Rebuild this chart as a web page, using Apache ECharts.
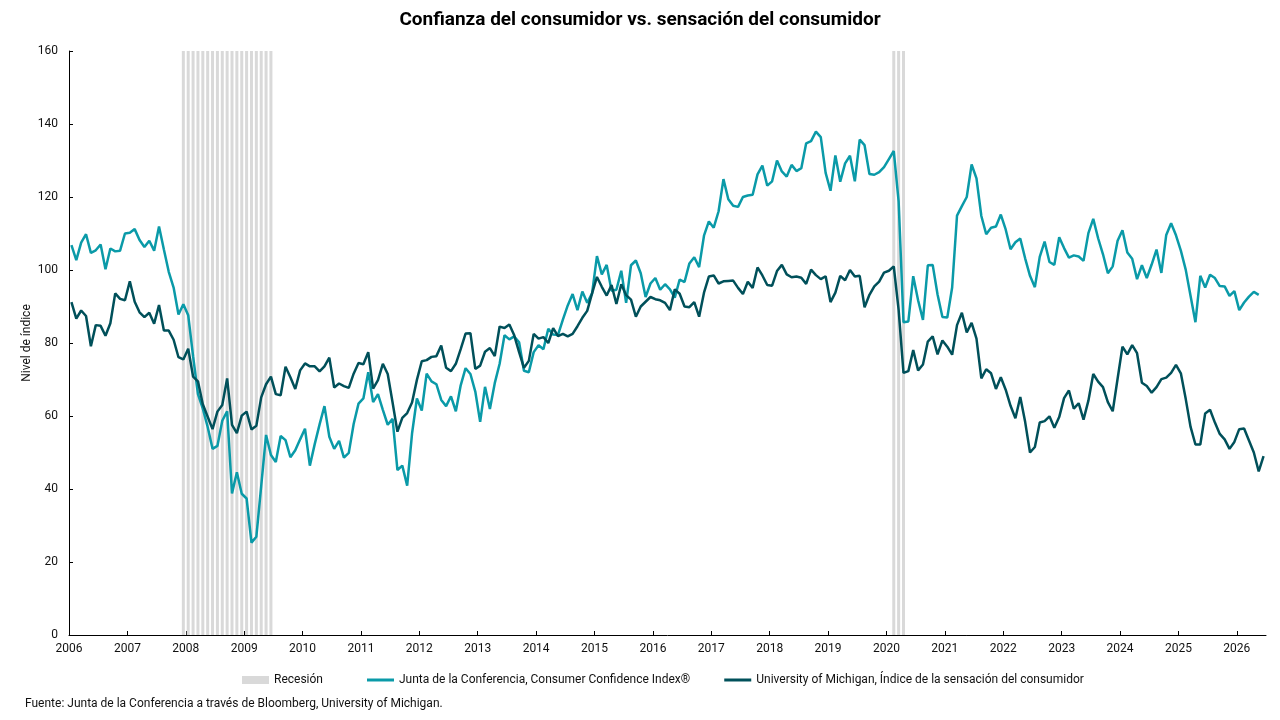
<!DOCTYPE html>
<html>
<head>
<meta charset="utf-8">
<script src="https://cdn.jsdelivr.net/npm/echarts@6/dist/echarts.min.js"></script>
<style>
  html, body { margin: 0; padding: 0; background: #fff; }
  #chart { width: 1280px; height: 720px; }
</style>
</head>
<body>
<div id="chart"></div>
<script>
// datos mensuales desde enero de 2006
var startYear = 2006;

// Junta de la Conferencia, Consumer Confidence Index (ene 2006 - may 2026)
var cciValues = [
  106.8, 102.7, 107.5, 109.8, 104.7, 105.4, 107.0, 100.2, 105.9, 105.1, 105.3, 110.0,
  110.2, 111.2, 108.2, 106.3, 108.0, 105.3, 111.9, 105.6, 99.5, 95.2, 87.8, 90.6,
  87.6, 76.4, 66.0, 62.0, 57.0, 51.0, 51.8, 58.7, 61.3, 38.8, 44.6, 38.7,
  37.4, 25.3, 26.9, 40.8, 54.8, 49.3, 47.4, 54.5, 53.4, 48.7, 50.6, 53.6,
  56.5, 46.4, 52.3, 57.7, 62.7, 54.3, 51.0, 53.2, 48.6, 49.9, 57.8, 63.4,
  64.8, 72.0, 63.8, 66.0, 61.7, 57.6, 59.2, 45.2, 46.4, 40.9, 55.2, 64.8,
  61.5, 71.6, 69.5, 68.7, 64.4, 62.7, 65.4, 61.3, 68.4, 73.1, 71.5, 66.7,
  58.4, 68.0, 61.9, 69.0, 74.3, 82.1, 81.0, 81.8, 80.2, 72.4, 72.0, 77.5,
  79.4, 78.3, 83.9, 82.3, 82.2, 86.4, 90.3, 93.4, 89.0, 94.1, 91.0, 93.6,
  103.8, 98.8, 101.4, 94.3, 94.6, 99.8, 91.0, 101.3, 102.6, 99.1, 92.6, 96.3,
  97.8, 94.6, 96.1, 94.7, 92.4, 97.4, 96.7, 101.8, 103.5, 100.8, 109.4, 113.3,
  111.6, 116.1, 124.9, 119.4, 117.6, 117.3, 120.0, 120.4, 120.6, 126.2, 128.6, 123.1,
  124.3, 130.0, 127.0, 125.6, 128.8, 127.1, 127.9, 134.7, 135.3, 137.9, 136.4, 126.6,
  121.7, 131.4, 124.2, 129.2, 131.3, 124.3, 135.7, 134.2, 126.3, 126.1, 126.8, 128.2,
  130.4, 132.6, 118.8, 85.7, 85.9, 98.3, 91.7, 86.3, 101.3, 101.4, 93.3, 87.1,
  87.0, 95.2, 114.9, 117.5, 120.0, 128.9, 125.1, 114.8, 109.8, 111.6, 111.9, 115.2,
  111.1, 105.7, 107.6, 108.6, 103.2, 98.4, 95.3, 103.6, 107.8, 102.2, 101.4, 109.0,
  106.0, 103.4, 104.0, 103.7, 102.5, 110.1, 114.0, 108.7, 104.3, 99.1, 101.0, 108.0,
  110.9, 104.8, 103.1, 97.5, 101.3, 97.8, 101.5, 105.6, 99.2, 109.6, 112.8, 109.5,
  105.3, 100.1, 92.9, 85.7, 98.4, 95.2, 98.7, 97.8, 95.6, 95.5, 92.9, 94.2,
  89.0, 91.1, 92.7, 94.0, 93.2
];

// University of Michigan, sensación del consumidor (ene 2006 - jun 2026)
var umichValues = [
  91.2, 86.7, 88.9, 87.4, 79.1, 84.9, 84.7, 82.0, 85.4, 93.6, 92.1, 91.7,
  96.9, 91.3, 88.4, 87.1, 88.3, 85.3, 90.4, 83.4, 83.4, 80.9, 76.1, 75.5,
  78.4, 70.8, 69.5, 63.2, 59.8, 56.4, 61.2, 63.0, 70.3, 57.6, 55.3, 60.1,
  61.2, 56.3, 57.3, 65.1, 68.7, 70.8, 66.0, 65.7, 73.5, 70.6, 67.4, 72.5,
  74.4, 73.6, 73.6, 72.2, 73.6, 76.0, 67.8, 68.9, 68.2, 67.7, 71.6, 74.5,
  74.2, 77.5, 67.5, 69.8, 74.3, 71.5, 63.7, 55.7, 59.5, 60.8, 63.7, 69.9,
  75.0, 75.3, 76.2, 76.4, 79.3, 73.2, 72.3, 74.3, 78.3, 82.6, 82.7, 72.9,
  73.8, 77.6, 78.6, 76.4, 84.5, 84.1, 85.1, 82.1, 77.5, 73.2, 75.1, 82.5,
  81.2, 81.6, 80.0, 84.1, 81.9, 82.5, 81.8, 82.5, 84.6, 86.9, 88.8, 93.6,
  98.1, 95.4, 93.0, 95.9, 90.7, 96.1, 93.1, 91.9, 87.2, 90.0, 91.3, 92.6,
  92.0, 91.7, 91.0, 89.0, 94.7, 93.5, 90.0, 89.8, 91.2, 87.2, 93.8, 98.2,
  98.5, 96.3, 96.9, 97.0, 97.1, 95.1, 93.4, 96.8, 95.1, 100.7, 98.5, 95.9,
  95.7, 99.7, 101.4, 98.8, 98.0, 98.2, 97.9, 96.2, 100.1, 98.6, 97.5, 98.3,
  91.2, 93.8, 98.4, 97.2, 100.0, 98.2, 98.4, 89.8, 93.2, 95.5, 96.8, 99.3,
  99.8, 101.0, 89.1, 71.8, 72.3, 78.1, 72.5, 74.1, 80.4, 81.8, 76.9, 80.7,
  79.0, 76.8, 84.9, 88.3, 82.9, 85.5, 81.2, 70.3, 72.8, 71.7, 67.4, 70.6,
  67.2, 62.8, 59.4, 65.2, 58.4, 50.0, 51.5, 58.2, 58.6, 59.9, 56.8, 59.7,
  64.9, 67.0, 62.0, 63.5, 59.0, 64.2, 71.5, 69.4, 67.9, 63.8, 61.3, 70.2,
  79.0, 76.9, 79.4, 77.2, 69.1, 68.2, 66.4, 67.9, 70.1, 70.5, 71.8, 74.0,
  71.7, 64.7, 57.0, 52.2, 52.2, 60.7, 61.7, 58.2, 55.1, 53.6, 51.0, 52.9,
  56.4, 56.6, 53.3, 50.0, 44.8, 49.0
];

// meses en recesión (NBER)
var recessionMonths = [
  '2007-12', '2008-01', '2008-02', '2008-03', '2008-04', '2008-05', '2008-06',
  '2008-07', '2008-08', '2008-09', '2008-10', '2008-11', '2008-12',
  '2009-01', '2009-02', '2009-03', '2009-04', '2009-05', '2009-06',
  '2020-02', '2020-03', '2020-04'
];

var yMax = 160;
var yAxisName = 'Nivel de índice';
var seriesNames = [
  'Recesión',
  'Junta de la Conferencia, Consumer Confidence Index®',
  'University of Michigan, Índice de la sensación del consumidor'
];

// posición en años decimales (mitad de mes)
function monthX(i) {
  return startYear + (i + 0.5) / 12;
}
function labelX(s) {
  var p = s.split('-');
  return +p[0] + (+p[1] - 0.5) / 12;
}

var cciData = cciValues.map(function (v, i) { return [monthX(i), v]; });
var umichData = umichValues.map(function (v, i) { return [monthX(i), v]; });
var recessionData = recessionMonths.map(function (m) { return [labelX(m), yMax]; });

var font = 'Roboto, "Noto Sans", sans-serif';
var textColor = '#111';
var myChart = echarts.init(document.getElementById('chart'), null, { renderer: 'canvas' });

option = {
  backgroundColor: '#ffffff',
  animation: false,
  textStyle: { fontFamily: font },
  title: [
    {
      text: 'Confianza del consumidor vs. sensación del consumidor',
      left: 'center',
      top: 11,
      padding: 0,
      textStyle: { fontSize: 19, fontWeight: 'bold', color: '#000', fontFamily: font }
    },
    {
      text: 'Fuente: Junta de la Conferencia a través de Bloomberg, University of Michigan.',
      left: 25,
      top: 698,
      padding: 0,
      textStyle: { fontSize: 12, fontWeight: 'normal', color: textColor, fontFamily: font }
    }
  ],
  // título del eje Y, girado
  graphic: [
    {
      type: 'text',
      x: 27,
      y: 343,
      rotation: Math.PI / 2,
      style: {
        text: yAxisName,
        fill: textColor,
        font: '12px ' + font,
        align: 'center',
        verticalAlign: 'middle'
      }
    }
  ],
  legend: [
    {
      // recesión: rectángulo gris
      left: 242,
      top: 674,
      padding: 0,
      itemWidth: 27,
      itemHeight: 8,
      textStyle: { fontSize: 12, color: textColor, fontFamily: font },
      data: [{ name: seriesNames[0], icon: 'rect' }]
    },
    {
      // series de línea: trazo simple
      left: 367,
      top: 674,
      padding: 0,
      itemWidth: 27,
      itemHeight: 3,
      itemGap: 34,
      icon: 'rect',
      textStyle: { fontSize: 12, color: textColor, fontFamily: font },
      data: [seriesNames[1], seriesNames[2]]
    }
  ],
  grid: {
    left: 69,
    right: 14,
    top: 51,
    bottom: 85,
    containLabel: false
  },
  xAxis: {
    type: 'value',
    min: 2006,
    max: 2026.5,
    interval: 1,
    splitLine: { show: false },
    axisLine: { show: true, onZero: false, lineStyle: { color: '#000', width: 1 } },
    axisTick: { show: true, inside: true, length: 4, lineStyle: { color: '#000' } },
    axisLabel: {
      color: textColor,
      fontSize: 12,
      margin: 8,
      showMaxLabel: false,
      formatter: function (v) { return Number.isInteger(v) ? String(v) : ''; }
    }
  },
  yAxis: {
    type: 'value',
    min: 0,
    max: yMax,
    interval: 20,
    splitLine: { show: false },
    axisLine: { show: true, lineStyle: { color: '#000', width: 1 } },
    axisTick: { show: true, inside: true, length: 4, lineStyle: { color: '#000' } },
    axisLabel: { color: textColor, fontSize: 12, margin: 11 }
  },
  series: [
    {
      name: seriesNames[0],
      type: 'bar',
      data: recessionData,
      barWidth: 3,
      itemStyle: { color: '#d9d9d9' },
      z: 1,
      silent: true
    },
    {
      name: seriesNames[1],
      type: 'line',
      data: cciData,
      showSymbol: false,
      symbol: 'none',
      lineStyle: { color: '#0a9aa8', width: 2.5 },
      itemStyle: { color: '#0a9aa8' },
      z: 3
    },
    {
      name: seriesNames[2],
      type: 'line',
      data: umichData,
      showSymbol: false,
      symbol: 'none',
      lineStyle: { color: '#00505a', width: 2.5 },
      itemStyle: { color: '#00505a' },
      z: 4
    }
  ]
};

myChart.setOption(option, true);
</script>
</body>
</html>
